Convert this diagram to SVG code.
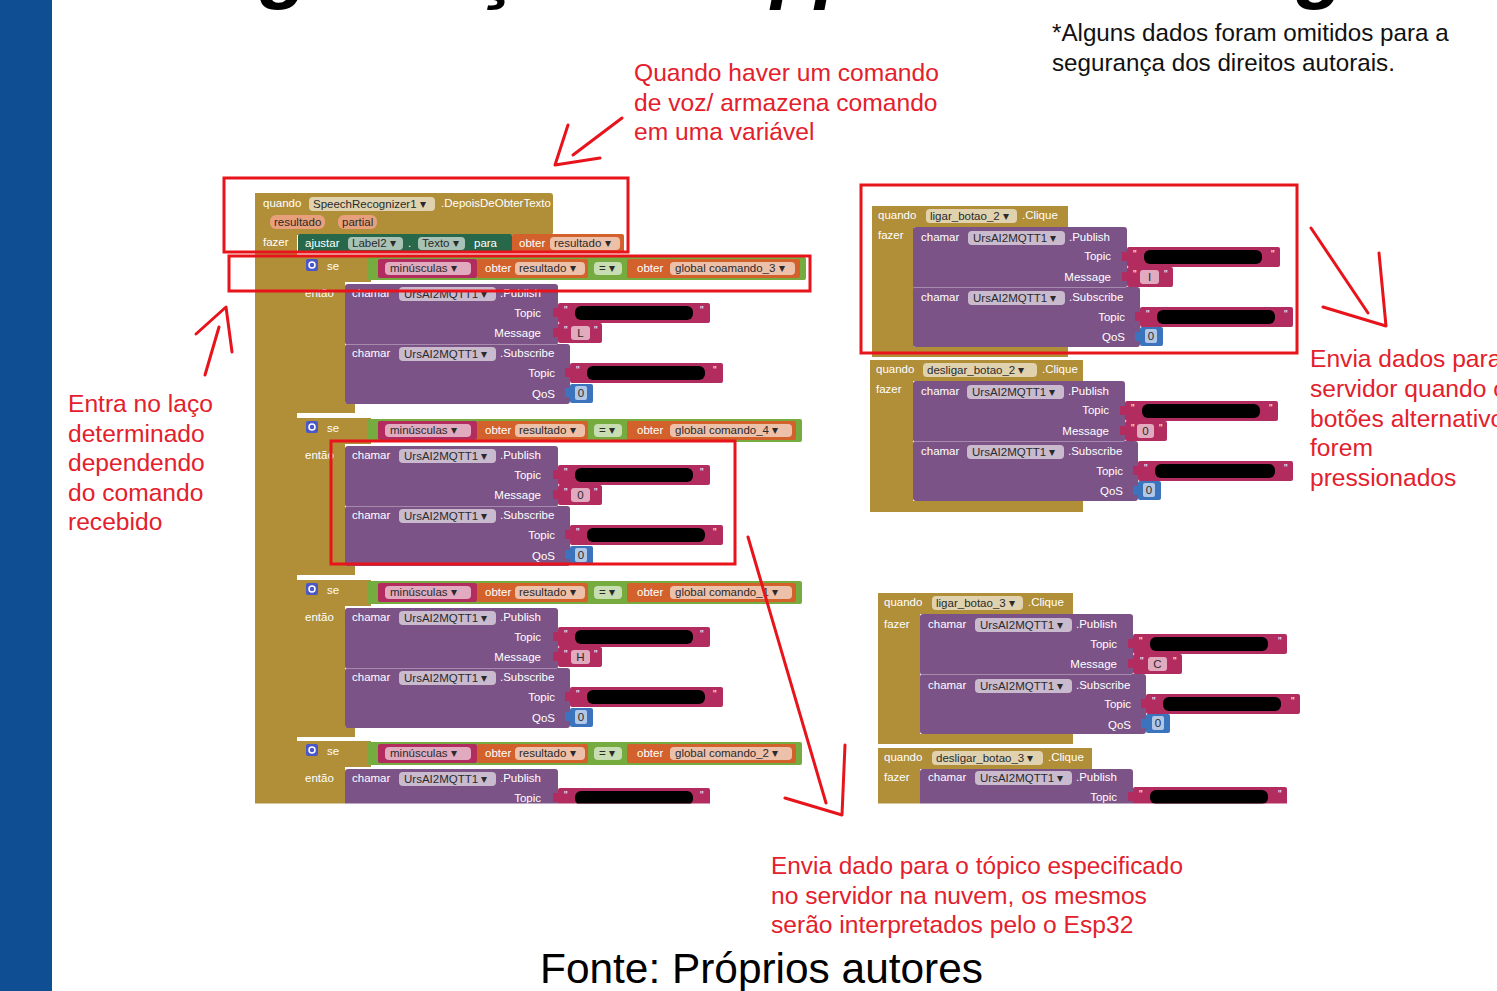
<svg xmlns="http://www.w3.org/2000/svg" width="1497" height="991" viewBox="0 0 1497 991">
<defs>
<style>
.ev{fill:#b18e38}
.pu{fill:#7c5386}
.pk{fill:#b32c5f}
.gr{fill:#76ab40}
.or{fill:#d3612c}
.bl{fill:#3c73bd}
.dg{fill:#27674a}
.fld{fill:#ffffff;fill-opacity:.6}
.blk{fill:#000}
.t{font-family:"Liberation Sans",Arial,sans-serif;font-size:11.5px;fill:#fff}
.tf{font-family:"Liberation Sans",Arial,sans-serif;font-size:11.5px;fill:#2a2a2a}
.q{font-family:"Liberation Sans",Arial,sans-serif;font-size:10px;fill:#fff}
.ann{font-family:"Liberation Sans",Arial,sans-serif;font-size:24.6px;fill:#e3202c}
.box{fill:none;stroke:#e8141c;stroke-width:3}
.arr{fill:none;stroke:#e8141c;stroke-width:3;stroke-linecap:round;stroke-linejoin:round}
</style>
<clipPath id="cb"><rect x="0" y="0" width="1497" height="803.5"/></clipPath>
</defs>
<rect x="0" y="0" width="1497" height="991" fill="#fff"/>
<rect id="band" x="0" y="0" width="52" height="991" fill="#0f4e92"/>
<text id="title" x="142" y="-7" textLength="1300" lengthAdjust="spacing" font-family="'Liberation Sans',Arial,sans-serif" font-size="80" font-weight="bold" font-style="italic" fill="#000">Programação do App Inventor - Lógica</text>
<g id="note">
<text x="1052" y="41" font-family="'Liberation Sans',Arial,sans-serif" font-size="24.2" fill="#111">*Alguns dados foram omitidos para a</text>
<text x="1052" y="71" font-family="'Liberation Sans',Arial,sans-serif" font-size="24.2" fill="#111">segurança dos direitos autorais.</text>
</g>

<g id="blocks-left" clip-path="url(#cb)">
<g id="event-speech">
<rect class="ev" x="255" y="193" width="42" height="620"/>
<rect class="ev" x="255" y="193" width="298" height="42" rx="3"/>
<text class="t" x="263" y="207">quando</text>
<rect class="fld" x="309" y="197" width="126" height="14" rx="4"/>
<text class="tf" x="313" y="208">SpeechRecognizer1 ▾</text>
<text class="t" x="441" y="207">.DepoisDeObterTexto</text>
<rect x="270" y="215" width="55" height="14" rx="6" fill="#e8a07c"/>
<text class="tf" x="274" y="226">resultado</text>
<rect x="338" y="215" width="39" height="14" rx="6" fill="#e8a07c"/>
<text class="tf" x="342" y="226">partial</text>
<text class="t" x="263" y="246">fazer</text>
<rect class="dg" x="298" y="234" width="214" height="19" rx="2"/>
<text class="t" x="305" y="247">ajustar</text>
<rect class="fld" x="348" y="237" width="55" height="13" rx="4"/>
<text class="tf" x="352" y="247">Label2 ▾</text>
<text class="t" x="408" y="247">.</text>
<rect class="fld" x="418" y="237" width="47" height="13" rx="4"/>
<text class="tf" x="422" y="247">Texto ▾</text>
<text class="t" x="474" y="247">para</text>
<rect class="or" x="512" y="234" width="112" height="19" rx="2"/>
<text class="t" x="519" y="247">obter</text>
<rect class="fld" x="550" y="237" width="70" height="13" rx="4"/>
<text class="tf" x="554" y="247">resultado ▾</text>
</g>

<g id="if1" transform="translate(0,256)">
<path class="ev" d="M297,0 h74 v26 h-26 v121 h10 v10 h-58 z"/>
<rect x="306" y="3" width="12" height="12" rx="2" fill="#4a57c8"/><circle cx="312" cy="9" r="3" fill="none" stroke="#fff" stroke-width="1.5"/>
<text class="t" x="327" y="14">se</text>
<rect class="gr" x="367" y="1" width="439" height="23" rx="2"/>
<rect class="pk" x="378" y="3" width="99" height="19" rx="2"/>
<rect class="fld" x="385" y="6" width="86" height="13" rx="4"/>
<text class="tf" x="390" y="16">minúsculas ▾</text>
<rect class="or" x="477" y="3" width="111" height="19" rx="2"/>
<text class="t" x="485" y="16">obter</text>
<rect class="fld" x="515" y="6" width="70" height="13" rx="4"/>
<text class="tf" x="519" y="16">resultado ▾</text>
<rect class="fld" x="594" y="6" width="28" height="13" rx="4"/>
<text class="tf" x="599" y="16">= ▾</text>
<rect class="or" x="627" y="3" width="173" height="19" rx="2"/>
<text class="t" x="637" y="16">obter</text>
<rect class="fld" x="670" y="6" width="125" height="13" rx="4"/>
<text class="tf" x="675" y="16">global coamando_3 ▾</text>
<text class="t" x="305" y="41">então</text>
<rect class="pu" x="345" y="28" width="213" height="61" rx="3"/>
<rect class="pu" x="345" y="88" width="225" height="60" rx="3"/>
<line x1="346" y1="88.5" x2="557" y2="88.5" stroke="#a68bad" stroke-width="1"/>
<text class="t" x="352" y="41">chamar</text>
<rect class="fld" x="399" y="31" width="97" height="14" rx="4"/>
<text class="tf" x="404" y="42">UrsAI2MQTT1 ▾</text>
<text class="t" x="500" y="41">.Publish</text>
<text class="t" x="541" y="61" text-anchor="end">Topic</text>
<text class="t" x="541" y="81" text-anchor="end">Message</text>
<text class="t" x="352" y="101">chamar</text>
<rect class="fld" x="399" y="91" width="97" height="14" rx="4"/>
<text class="tf" x="404" y="102">UrsAI2MQTT1 ▾</text>
<text class="t" x="500" y="101">.Subscribe</text>
<text class="t" x="555" y="121" text-anchor="end">Topic</text>
<text class="t" x="555" y="142" text-anchor="end">QoS</text>
<rect class="pk" x="553" y="52" width="6" height="9"/><rect class="pk" x="558" y="47" width="152" height="20" rx="2"/>
<text class="q" x="564" y="58">"</text><text class="q" x="700" y="58">"</text>
<rect class="blk" x="575" y="50" width="118" height="14" rx="6"/>
<rect class="pk" x="553" y="72" width="6" height="9"/><rect class="pk" x="558" y="67" width="44" height="20" rx="2"/>
<text class="q" x="564" y="78">"</text><text class="q" x="594" y="78">"</text>
<rect class="fld" x="571" y="70" width="19" height="14" rx="3"/>
<text class="tf" x="580.5" y="81" text-anchor="middle">L</text>
<rect class="pk" x="565" y="112" width="6" height="9"/><rect class="pk" x="570" y="107" width="153" height="20" rx="2"/>
<text class="q" x="576" y="118">"</text><text class="q" x="713" y="118">"</text>
<rect class="blk" x="587" y="110" width="118" height="14" rx="6"/>
<rect class="bl" x="565" y="132" width="6" height="9"/><rect class="bl" x="570" y="128" width="23" height="19" rx="2"/>
<rect class="fld" x="575" y="130" width="12" height="14" rx="2"/>
<text class="tf" x="581" y="141" text-anchor="middle">0</text>
</g>

<g id="if2" transform="translate(0,418)">
<path class="ev" d="M297,0 h74 v26 h-26 v121 h10 v10 h-58 z"/>
<rect x="306" y="3" width="12" height="12" rx="2" fill="#4a57c8"/><circle cx="312" cy="9" r="3" fill="none" stroke="#fff" stroke-width="1.5"/>
<text class="t" x="327" y="14">se</text>
<rect class="gr" x="367" y="1" width="435" height="23" rx="2"/>
<rect class="pk" x="378" y="3" width="99" height="19" rx="2"/>
<rect class="fld" x="385" y="6" width="86" height="13" rx="4"/>
<text class="tf" x="390" y="16">minúsculas ▾</text>
<rect class="or" x="477" y="3" width="111" height="19" rx="2"/>
<text class="t" x="485" y="16">obter</text>
<rect class="fld" x="515" y="6" width="70" height="13" rx="4"/>
<text class="tf" x="519" y="16">resultado ▾</text>
<rect class="fld" x="594" y="6" width="28" height="13" rx="4"/>
<text class="tf" x="599" y="16">= ▾</text>
<rect class="or" x="627" y="3" width="169" height="19" rx="2"/>
<text class="t" x="637" y="16">obter</text>
<rect class="fld" x="670" y="6" width="122" height="13" rx="4"/>
<text class="tf" x="675" y="16">global comando_4 ▾</text>
<text class="t" x="305" y="41">então</text>
<rect class="pu" x="345" y="28" width="213" height="61" rx="3"/>
<rect class="pu" x="345" y="88" width="225" height="60" rx="3"/>
<line x1="346" y1="88.5" x2="557" y2="88.5" stroke="#a68bad" stroke-width="1"/>
<text class="t" x="352" y="41">chamar</text>
<rect class="fld" x="399" y="31" width="97" height="14" rx="4"/>
<text class="tf" x="404" y="42">UrsAI2MQTT1 ▾</text>
<text class="t" x="500" y="41">.Publish</text>
<text class="t" x="541" y="61" text-anchor="end">Topic</text>
<text class="t" x="541" y="81" text-anchor="end">Message</text>
<text class="t" x="352" y="101">chamar</text>
<rect class="fld" x="399" y="91" width="97" height="14" rx="4"/>
<text class="tf" x="404" y="102">UrsAI2MQTT1 ▾</text>
<text class="t" x="500" y="101">.Subscribe</text>
<text class="t" x="555" y="121" text-anchor="end">Topic</text>
<text class="t" x="555" y="142" text-anchor="end">QoS</text>
<rect class="pk" x="553" y="52" width="6" height="9"/><rect class="pk" x="558" y="47" width="152" height="20" rx="2"/>
<text class="q" x="564" y="58">"</text><text class="q" x="700" y="58">"</text>
<rect class="blk" x="575" y="50" width="118" height="14" rx="6"/>
<rect class="pk" x="553" y="72" width="6" height="9"/><rect class="pk" x="558" y="67" width="44" height="20" rx="2"/>
<text class="q" x="564" y="78">"</text><text class="q" x="594" y="78">"</text>
<rect class="fld" x="571" y="70" width="19" height="14" rx="3"/>
<text class="tf" x="580.5" y="81" text-anchor="middle">0</text>
<rect class="pk" x="565" y="112" width="6" height="9"/><rect class="pk" x="570" y="107" width="153" height="20" rx="2"/>
<text class="q" x="576" y="118">"</text><text class="q" x="713" y="118">"</text>
<rect class="blk" x="587" y="110" width="118" height="14" rx="6"/>
<rect class="bl" x="565" y="132" width="6" height="9"/><rect class="bl" x="570" y="128" width="23" height="19" rx="2"/>
<rect class="fld" x="575" y="130" width="12" height="14" rx="2"/>
<text class="tf" x="581" y="141" text-anchor="middle">0</text>
</g>

<g id="if3" transform="translate(0,580)">
<path class="ev" d="M297,0 h74 v26 h-26 v121 h10 v10 h-58 z"/>
<rect x="306" y="3" width="12" height="12" rx="2" fill="#4a57c8"/><circle cx="312" cy="9" r="3" fill="none" stroke="#fff" stroke-width="1.5"/>
<text class="t" x="327" y="14">se</text>
<rect class="gr" x="367" y="1" width="435" height="23" rx="2"/>
<rect class="pk" x="378" y="3" width="99" height="19" rx="2"/>
<rect class="fld" x="385" y="6" width="86" height="13" rx="4"/>
<text class="tf" x="390" y="16">minúsculas ▾</text>
<rect class="or" x="477" y="3" width="111" height="19" rx="2"/>
<text class="t" x="485" y="16">obter</text>
<rect class="fld" x="515" y="6" width="70" height="13" rx="4"/>
<text class="tf" x="519" y="16">resultado ▾</text>
<rect class="fld" x="594" y="6" width="28" height="13" rx="4"/>
<text class="tf" x="599" y="16">= ▾</text>
<rect class="or" x="627" y="3" width="169" height="19" rx="2"/>
<text class="t" x="637" y="16">obter</text>
<rect class="fld" x="670" y="6" width="122" height="13" rx="4"/>
<text class="tf" x="675" y="16">global comando_1 ▾</text>
<text class="t" x="305" y="41">então</text>
<rect class="pu" x="345" y="28" width="213" height="61" rx="3"/>
<rect class="pu" x="345" y="88" width="225" height="60" rx="3"/>
<line x1="346" y1="88.5" x2="557" y2="88.5" stroke="#a68bad" stroke-width="1"/>
<text class="t" x="352" y="41">chamar</text>
<rect class="fld" x="399" y="31" width="97" height="14" rx="4"/>
<text class="tf" x="404" y="42">UrsAI2MQTT1 ▾</text>
<text class="t" x="500" y="41">.Publish</text>
<text class="t" x="541" y="61" text-anchor="end">Topic</text>
<text class="t" x="541" y="81" text-anchor="end">Message</text>
<text class="t" x="352" y="101">chamar</text>
<rect class="fld" x="399" y="91" width="97" height="14" rx="4"/>
<text class="tf" x="404" y="102">UrsAI2MQTT1 ▾</text>
<text class="t" x="500" y="101">.Subscribe</text>
<text class="t" x="555" y="121" text-anchor="end">Topic</text>
<text class="t" x="555" y="142" text-anchor="end">QoS</text>
<rect class="pk" x="553" y="52" width="6" height="9"/><rect class="pk" x="558" y="47" width="152" height="20" rx="2"/>
<text class="q" x="564" y="58">"</text><text class="q" x="700" y="58">"</text>
<rect class="blk" x="575" y="50" width="118" height="14" rx="6"/>
<rect class="pk" x="553" y="72" width="6" height="9"/><rect class="pk" x="558" y="67" width="44" height="20" rx="2"/>
<text class="q" x="564" y="78">"</text><text class="q" x="594" y="78">"</text>
<rect class="fld" x="571" y="70" width="19" height="14" rx="3"/>
<text class="tf" x="580.5" y="81" text-anchor="middle">H</text>
<rect class="pk" x="565" y="112" width="6" height="9"/><rect class="pk" x="570" y="107" width="153" height="20" rx="2"/>
<text class="q" x="576" y="118">"</text><text class="q" x="713" y="118">"</text>
<rect class="blk" x="587" y="110" width="118" height="14" rx="6"/>
<rect class="bl" x="565" y="132" width="6" height="9"/><rect class="bl" x="570" y="128" width="23" height="19" rx="2"/>
<rect class="fld" x="575" y="130" width="12" height="14" rx="2"/>
<text class="tf" x="581" y="141" text-anchor="middle">0</text>
</g>

<g id="if4" transform="translate(0,741)">
<path class="ev" d="M297,0 h74 v26 h-26 v121 h-48 z"/>
<rect x="306" y="3" width="12" height="12" rx="2" fill="#4a57c8"/><circle cx="312" cy="9" r="3" fill="none" stroke="#fff" stroke-width="1.5"/>
<text class="t" x="327" y="14">se</text>
<rect class="gr" x="367" y="1" width="435" height="23" rx="2"/>
<rect class="pk" x="378" y="3" width="99" height="19" rx="2"/>
<rect class="fld" x="385" y="6" width="86" height="13" rx="4"/>
<text class="tf" x="390" y="16">minúsculas ▾</text>
<rect class="or" x="477" y="3" width="111" height="19" rx="2"/>
<text class="t" x="485" y="16">obter</text>
<rect class="fld" x="515" y="6" width="70" height="13" rx="4"/>
<text class="tf" x="519" y="16">resultado ▾</text>
<rect class="fld" x="594" y="6" width="28" height="13" rx="4"/>
<text class="tf" x="599" y="16">= ▾</text>
<rect class="or" x="627" y="3" width="169" height="19" rx="2"/>
<text class="t" x="637" y="16">obter</text>
<rect class="fld" x="670" y="6" width="122" height="13" rx="4"/>
<text class="tf" x="675" y="16">global comando_2 ▾</text>
<text class="t" x="305" y="41">então</text>
<rect class="pu" x="345" y="28" width="213" height="80" rx="3"/>
<text class="t" x="352" y="41">chamar</text>
<rect class="fld" x="399" y="31" width="97" height="14" rx="4"/>
<text class="tf" x="404" y="42">UrsAI2MQTT1 ▾</text>
<text class="t" x="500" y="41">.Publish</text>
<text class="t" x="541" y="61" text-anchor="end">Topic</text>
<rect class="pk" x="553" y="52" width="6" height="9"/><rect class="pk" x="558" y="47" width="152" height="20" rx="2"/>
<text class="q" x="564" y="58">"</text><text class="q" x="700" y="58">"</text>
<rect class="blk" x="575" y="50" width="118" height="14" rx="6"/>
</g>
</g>

<g id="blocks-right" clip-path="url(#cb)">
<g id="ligar2" transform="translate(872,206)">
<path class="ev" d="M0,0 h196 v21 h-154 v120 h154 v10 h-196 z"/>
<text class="t" x="6" y="13">quando</text>
<rect class="fld" x="54" y="3" width="91" height="14" rx="4"/>
<text class="tf" x="58" y="14">ligar_botao_2 ▾</text>
<text class="t" x="150" y="13">.Clique</text>
<text class="t" x="6" y="33">fazer</text>
<rect class="pu" x="41" y="21" width="214" height="61" rx="3"/>
<rect class="pu" x="41" y="81" width="227" height="60" rx="3"/>
<line x1="42" y1="81.5" x2="254" y2="81.5" stroke="#a68bad" stroke-width="1"/>
<text class="t" x="49" y="35">chamar</text>
<rect class="fld" x="96" y="25" width="97" height="14" rx="4"/>
<text class="tf" x="101" y="36">UrsAI2MQTT1 ▾</text>
<text class="t" x="197" y="35">.Publish</text>
<text class="t" x="239" y="54" text-anchor="end">Topic</text>
<text class="t" x="239" y="75" text-anchor="end">Message</text>
<text class="t" x="49" y="95">chamar</text>
<rect class="fld" x="96" y="85" width="97" height="14" rx="4"/>
<text class="tf" x="101" y="96">UrsAI2MQTT1 ▾</text>
<text class="t" x="197" y="95">.Subscribe</text>
<text class="t" x="253" y="115" text-anchor="end">Topic</text>
<text class="t" x="253" y="135" text-anchor="end">QoS</text>
<rect class="pk" x="250" y="46" width="6" height="9"/><rect class="pk" x="255" y="41" width="153" height="20" rx="2"/>
<text class="q" x="261" y="52">"</text><text class="q" x="399" y="52">"</text>
<rect class="blk" x="272" y="44" width="118" height="14" rx="6"/>
<rect class="pk" x="250" y="66" width="6" height="9"/><rect class="pk" x="255" y="61" width="46" height="20" rx="2"/>
<text class="q" x="261" y="72">"</text><text class="q" x="292" y="72">"</text>
<rect class="fld" x="268" y="64" width="19" height="14" rx="3"/>
<text class="tf" x="277.5" y="75" text-anchor="middle">I</text>
<rect class="pk" x="263" y="106" width="6" height="9"/><rect class="pk" x="268" y="101" width="153" height="20" rx="2"/>
<text class="q" x="274" y="112">"</text><text class="q" x="412" y="112">"</text>
<rect class="blk" x="285" y="104" width="118" height="14" rx="6"/>
<rect class="bl" x="263" y="126" width="6" height="9"/><rect class="bl" x="268" y="121" width="23" height="19" rx="2"/>
<rect class="fld" x="273" y="123" width="12" height="14" rx="2"/>
<text class="tf" x="279" y="134" text-anchor="middle">0</text>
</g>

<g id="desligar2" transform="translate(870,360)">
<path class="ev" d="M0,0 h213 v21 h-170 v120 h170 v11 h-213 z"/>
<text class="t" x="6" y="13">quando</text>
<rect class="fld" x="53" y="3" width="114" height="14" rx="4"/>
<text class="tf" x="57" y="14">desligar_botao_2 ▾</text>
<text class="t" x="172" y="13">.Clique</text>
<text class="t" x="6" y="33">fazer</text>
<rect class="pu" x="43" y="21" width="212" height="61" rx="3"/>
<rect class="pu" x="43" y="81" width="225" height="60" rx="3"/>
<line x1="44" y1="81.5" x2="254" y2="81.5" stroke="#a68bad" stroke-width="1"/>
<text class="t" x="51" y="35">chamar</text>
<rect class="fld" x="97" y="25" width="97" height="14" rx="4"/>
<text class="tf" x="102" y="36">UrsAI2MQTT1 ▾</text>
<text class="t" x="198" y="35">.Publish</text>
<text class="t" x="239" y="54" text-anchor="end">Topic</text>
<text class="t" x="239" y="75" text-anchor="end">Message</text>
<text class="t" x="51" y="95">chamar</text>
<rect class="fld" x="97" y="85" width="97" height="14" rx="4"/>
<text class="tf" x="102" y="96">UrsAI2MQTT1 ▾</text>
<text class="t" x="198" y="95">.Subscribe</text>
<text class="t" x="253" y="115" text-anchor="end">Topic</text>
<text class="t" x="253" y="135" text-anchor="end">QoS</text>
<rect class="pk" x="250" y="46" width="6" height="9"/><rect class="pk" x="255" y="41" width="153" height="20" rx="2"/>
<text class="q" x="261" y="52">"</text><text class="q" x="399" y="52">"</text>
<rect class="blk" x="272" y="44" width="118" height="14" rx="6"/>
<rect class="pk" x="250" y="66" width="6" height="9"/><rect class="pk" x="255" y="61" width="42" height="20" rx="2"/>
<text class="q" x="261" y="72">"</text><text class="q" x="289" y="72">"</text>
<rect class="fld" x="267" y="64" width="17" height="14" rx="3"/>
<text class="tf" x="275.5" y="75" text-anchor="middle">0</text>
<rect class="pk" x="263" y="106" width="6" height="9"/><rect class="pk" x="268" y="101" width="155" height="20" rx="2"/>
<text class="q" x="274" y="112">"</text><text class="q" x="414" y="112">"</text>
<rect class="blk" x="285" y="104" width="120" height="14" rx="6"/>
<rect class="bl" x="263" y="126" width="6" height="9"/><rect class="bl" x="268" y="121" width="23" height="19" rx="2"/>
<rect class="fld" x="273" y="123" width="12" height="14" rx="2"/>
<text class="tf" x="279" y="134" text-anchor="middle">0</text>
</g>

<g id="ligar3" transform="translate(878,593)">
<path class="ev" d="M0,0 h195 v21 h-153 v120 h153 v10 h-195 z"/>
<text class="t" x="6" y="13">quando</text>
<rect class="fld" x="54" y="3" width="91" height="14" rx="4"/>
<text class="tf" x="58" y="14">ligar_botao_3 ▾</text>
<text class="t" x="150" y="13">.Clique</text>
<text class="t" x="6" y="35">fazer</text>
<rect class="pu" x="42" y="21" width="213" height="61" rx="3"/>
<rect class="pu" x="42" y="81" width="226" height="60" rx="3"/>
<line x1="43" y1="81.5" x2="254" y2="81.5" stroke="#a68bad" stroke-width="1"/>
<text class="t" x="50" y="35">chamar</text>
<rect class="fld" x="97" y="25" width="97" height="14" rx="4"/>
<text class="tf" x="102" y="36">UrsAI2MQTT1 ▾</text>
<text class="t" x="198" y="35">.Publish</text>
<text class="t" x="239" y="55" text-anchor="end">Topic</text>
<text class="t" x="239" y="75" text-anchor="end">Message</text>
<text class="t" x="50" y="96">chamar</text>
<rect class="fld" x="97" y="86" width="97" height="14" rx="4"/>
<text class="tf" x="102" y="97">UrsAI2MQTT1 ▾</text>
<text class="t" x="198" y="96">.Subscribe</text>
<text class="t" x="253" y="115" text-anchor="end">Topic</text>
<text class="t" x="253" y="136" text-anchor="end">QoS</text>
<rect class="pk" x="250" y="46" width="6" height="9"/><rect class="pk" x="255" y="41" width="154" height="20" rx="2"/>
<text class="q" x="261" y="52">"</text><text class="q" x="400" y="52">"</text>
<rect class="blk" x="272" y="44" width="118" height="14" rx="6"/>
<rect class="pk" x="250" y="66" width="6" height="9"/><rect class="pk" x="255" y="61" width="49" height="20" rx="2"/>
<text class="q" x="262" y="72">"</text><text class="q" x="295" y="72">"</text>
<rect class="fld" x="270" y="64" width="19" height="14" rx="3"/>
<text class="tf" x="279.5" y="75" text-anchor="middle">C</text>
<rect class="pk" x="263" y="106" width="6" height="9"/><rect class="pk" x="268" y="101" width="154" height="20" rx="2"/>
<text class="q" x="274" y="112">"</text><text class="q" x="413" y="112">"</text>
<rect class="blk" x="285" y="104" width="118" height="14" rx="6"/>
<rect class="bl" x="263" y="126" width="6" height="9"/><rect class="bl" x="268" y="121" width="24" height="19" rx="2"/>
<rect class="fld" x="274" y="123" width="12" height="14" rx="2"/>
<text class="tf" x="280" y="134" text-anchor="middle">0</text>
</g>

<g id="desligar3" transform="translate(878,748)">
<path class="ev" d="M0,0 h214 v21 h-172 v60 h-42 z"/>
<text class="t" x="6" y="13">quando</text>
<rect class="fld" x="54" y="3" width="111" height="14" rx="4"/>
<text class="tf" x="58" y="14">desligar_botao_3 ▾</text>
<text class="t" x="170" y="13">.Clique</text>
<text class="t" x="6" y="33">fazer</text>
<rect class="pu" x="42" y="21" width="213" height="61" rx="3"/>
<text class="t" x="50" y="33">chamar</text>
<rect class="fld" x="97" y="23" width="97" height="14" rx="4"/>
<text class="tf" x="102" y="34">UrsAI2MQTT1 ▾</text>
<text class="t" x="198" y="33">.Publish</text>
<text class="t" x="239" y="53" text-anchor="end">Topic</text>
<rect class="pk" x="250" y="44" width="6" height="9"/><rect class="pk" x="255" y="39" width="154" height="20" rx="2"/>
<text class="q" x="261" y="50">"</text><text class="q" x="400" y="50">"</text>
<rect class="blk" x="272" y="42" width="118" height="14" rx="6"/>
</g>
</g>

<g id="highlights">
<rect id="box-event" class="box" x="224" y="178" width="404" height="74"/>
<rect id="box-cond" class="box" x="229" y="256" width="581" height="35"/>
<rect id="box-publish" class="box" x="331" y="441" width="404" height="123"/>
<rect id="box-buttons" class="box" x="861" y="185" width="436" height="168"/>
</g>

<g id="connectors">
<path class="arr" d="M622,118 L573,155 M568,125 L555,165 L600,158"/>
<path class="arr" d="M205,375 L219,327 M196,334 L226,307 L232,352"/>
<path class="arr" d="M1311,228 L1368,313 M1379,253 L1386,326 L1323,307"/>
<path class="arr" d="M748,537 L826,803 M845,745 L842,815 L785,798"/>
</g>

<g id="ann-voz">
<text class="ann" x="634" y="81">Quando haver um comando</text>
<text class="ann" x="634" y="111">de voz/ armazena comando</text>
<text class="ann" x="634" y="140">em uma variável</text>
</g>
<g id="ann-laco">
<text class="ann" x="68" y="412">Entra no laço</text>
<text class="ann" x="68" y="442">determinado</text>
<text class="ann" x="68" y="471">dependendo</text>
<text class="ann" x="68" y="501">do comando</text>
<text class="ann" x="68" y="530">recebido</text>
</g>
<g id="ann-botoes">
<text class="ann" x="1310" y="367">Envia dados para o</text>
<text class="ann" x="1310" y="397">servidor quando os</text>
<text class="ann" x="1310" y="427">botões alternativos</text>
<text class="ann" x="1310" y="456">forem</text>
<text class="ann" x="1310" y="486">pressionados</text>
</g>
<g id="ann-topico">
<text class="ann" x="771" y="874" textLength="412" lengthAdjust="spacingAndGlyphs">Envia dado para o tópico especificado</text>
<text class="ann" x="771" y="904">no servidor na nuvem, os mesmos</text>
<text class="ann" x="771" y="933">serão interpretados pelo o Esp32</text>
</g>
<text id="fonte" x="540" y="983" font-family="'Liberation Sans',Arial,sans-serif" font-size="42.4" fill="#000">Fonte: Próprios autores</text>
</svg>
